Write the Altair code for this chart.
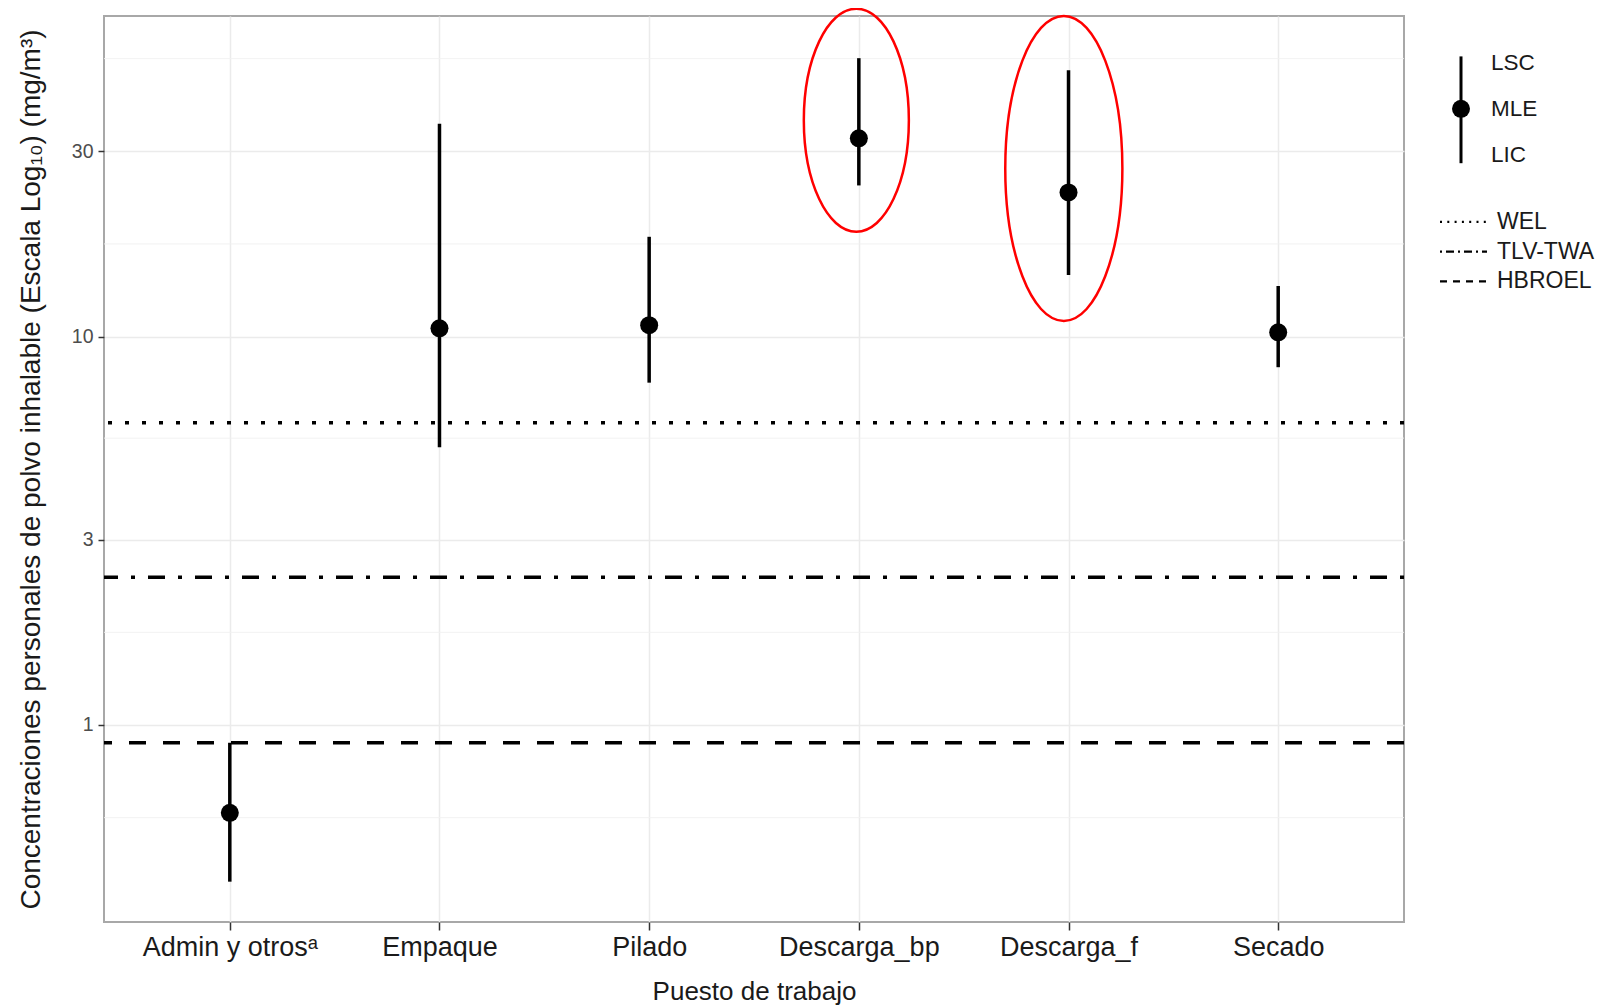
import altair as alt
import pandas as pd
import numpy as np

# ---------------- data ----------------
categories = ["Admin y otrosᵃ", "Empaque", "Pilado", "Descarga_bp", "Descarga_f", "Secado"]
mle = [0.594, 10.5, 10.7, 32.4, 23.5, 10.26]
lic = [0.395, 5.19, 7.61, 24.5, 14.4, 8.34]
lsc = [0.9, 35.3, 18.07, 52.1, 48.5, 13.5]

ref_names = ["WEL", "TLV-TWA", "HBROEL"]
ref_values = [6.0, 2.4, 0.9]

y_ticks = [1, 3, 10, 30]
highlighted = ["Descarga_bp", "Descarga_f"]
band_labels = ["LSC", "MLE", "LIC"]

# minor grid (ggplot style: mid-points in log space between major breaks)
lb = np.log10(y_ticks)
step = lb[1] - lb[0]
ext = np.concatenate([[lb[0] - step], lb, [lb[-1] + step]])
minor_breaks = list(10 ** ((ext[:-1] + ext[1:]) / 2))

df = pd.DataFrame({"cat": categories, "mle": mle, "lic": lic, "lsc": lsc})
ref_df = pd.DataFrame({"name": ref_names, "value": ref_values})
minor_df = pd.DataFrame({"value": minor_breaks})
band_df = pd.DataFrame({"label": band_labels})
key_df = pd.DataFrame({"key": ref_names})
one_df = pd.DataFrame({"k": [0]})

# ---------------- styles ----------------
FONT = "Liberation Sans"
W, H = 1300, 906
YTITLE = "Concentraciones personales de polvo inhalable (Escala Log₁₀) (mg/m³)"
XTITLE = "Puesto de trabajo"
DASHES = [[4, 13], [4, 13, 17, 13], [17, 17]]
LEG_DASHES = [[2, 5.3], [2, 4, 8, 4], [7, 6]]

yscale = alt.Scale(type="log", domain=[0.311, 66.9], nice=False)
xscale = alt.Scale(type="point", padding=0.6, domain=categories)
yaxis = alt.Axis(values=y_ticks, format="d")
xaxis = alt.Axis(labelAngle=0)


def Y(field, **kw):
    return alt.Y(field, scale=yscale, axis=yaxis, title=YTITLE, **kw)


def X(field):
    return alt.X(field, scale=xscale, axis=xaxis, title=XTITLE, sort=categories)


minor = alt.Chart(minor_df).mark_rule(color="#f0f0f0", strokeWidth=0.9).encode(
    y=Y("value:Q")
)

refs = alt.Chart(ref_df).mark_rule(color="black", strokeWidth=3.5, strokeCap="butt").encode(
    y=Y("value:Q"),
    strokeDash=alt.StrokeDash(
        "name:N", scale=alt.Scale(domain=ref_names, range=DASHES), legend=None
    ),
)

bars = alt.Chart(df).mark_rule(color="black", strokeWidth=3.5).encode(
    x=X("cat:N"), y=Y("lic:Q"), y2="lsc:Q"
)

pts = alt.Chart(df).mark_point(filled=True, size=324, color="black", opacity=1).encode(
    x=X("cat:N"), y=Y("mle:Q")
)


def ellipse(name, ratio, h, dx, dy):
    path = f"M0,-1A{ratio},1 0 1,1 0,1A{ratio},1 0 1,1 0,-1Z"
    return (
        alt.Chart(df)
        .transform_filter(alt.datum.cat == name)
        .transform_calculate(center="sqrt(datum.lic * datum.lsc)")
        .mark_point(
            shape=path, size=h * h, filled=False, color="#ff0000",
            strokeWidth=2.5, opacity=1, xOffset=dx, yOffset=dy,
        )
        .encode(x=X("cat:N"), y=Y("center:Q"))
    )


ell1 = ellipse(highlighted[0], 0.471, 223, -2.5, -1.6)
ell2 = ellipse(highlighted[1], 0.384, 305, -4.7, -4.2)

main = alt.layer(minor, refs, bars, pts, ell1, ell2).properties(
    width=W, height=H, view=alt.ViewBackground(stroke="#a8a8a8", strokeWidth=2)
)

# ---------------- legend panel ----------------
leg_rule = alt.Chart(one_df).mark_rule(color="black", strokeWidth=3).encode(
    x=alt.value(34), y=alt.value(40.4), y2=alt.value(147.2)
)
leg_pt = alt.Chart(one_df).mark_point(filled=True, size=324, color="black", opacity=1).encode(
    x=alt.value(34), y=alt.value(92.8)
)
leg_txt = alt.Chart(band_df).mark_text(
    align="left", baseline="middle", fontSize=22.5, color="#1a1a1a", font=FONT
).encode(
    x=alt.value(64),
    y=alt.Y("label:N", sort=band_labels,
            scale=alt.Scale(type="point", domain=band_labels, range=[46.6, 139.0], padding=0),
            axis=None),
    text="label:N",
)
key_scale = alt.Scale(type="point", domain=ref_names, range=[205.8, 265.3], padding=0)
leg_keys = alt.Chart(key_df).mark_rule(color="black", strokeWidth=2.2, strokeCap="butt").encode(
    x=alt.value(13), x2=alt.value(60),
    y=alt.Y("key:N", sort=ref_names, scale=key_scale, axis=None),
    strokeDash=alt.StrokeDash("key:N", scale=alt.Scale(domain=ref_names, range=LEG_DASHES), legend=None),
)
leg_keytxt = alt.Chart(key_df).mark_text(
    align="left", baseline="middle", fontSize=23, color="#1a1a1a", font=FONT
).encode(
    x=alt.value(70),
    y=alt.Y("key:N", sort=ref_names, scale=key_scale, axis=None),
    text="key:N",
)

legend = (
    alt.layer(leg_rule, leg_pt, leg_txt, leg_keys, leg_keytxt)
    .resolve_scale(y="independent")
    .properties(width=150, height=H, view=alt.ViewBackground(stroke=None))
)

chart = (
    alt.hconcat(main, legend, spacing=20)
    .resolve_scale(x="independent", y="independent", strokeDash="independent")
    .properties(padding={"left": 8, "top": -6, "right": 0, "bottom": 0})
    .configure(font=FONT)
    .configure_view(stroke=None)
    .configure_axis(
        grid=True, gridColor="#ebebeb", gridWidth=1.5, domain=False,
        tickColor="#333333", tickWidth=1.5, titleFontWeight="normal",
        labelFont=FONT, titleFont=FONT,
    )
    .configure_axisX(
        labelFontSize=27, labelColor="#1a1a1a", tickSize=8, labelPadding=4,
        titleFontSize=26, titleColor="#1a1a1a", titlePadding=18,
    )
    .configure_axisY(
        labelFontSize=19.5, labelColor="#4d4d4d", tickSize=6, labelPadding=5,
        titleFontSize=28, titleColor="#1a1a1a", titlePadding=26,
    )
)

chart.save("out.html", embed_options={"renderer": "svg", "actions": False})
